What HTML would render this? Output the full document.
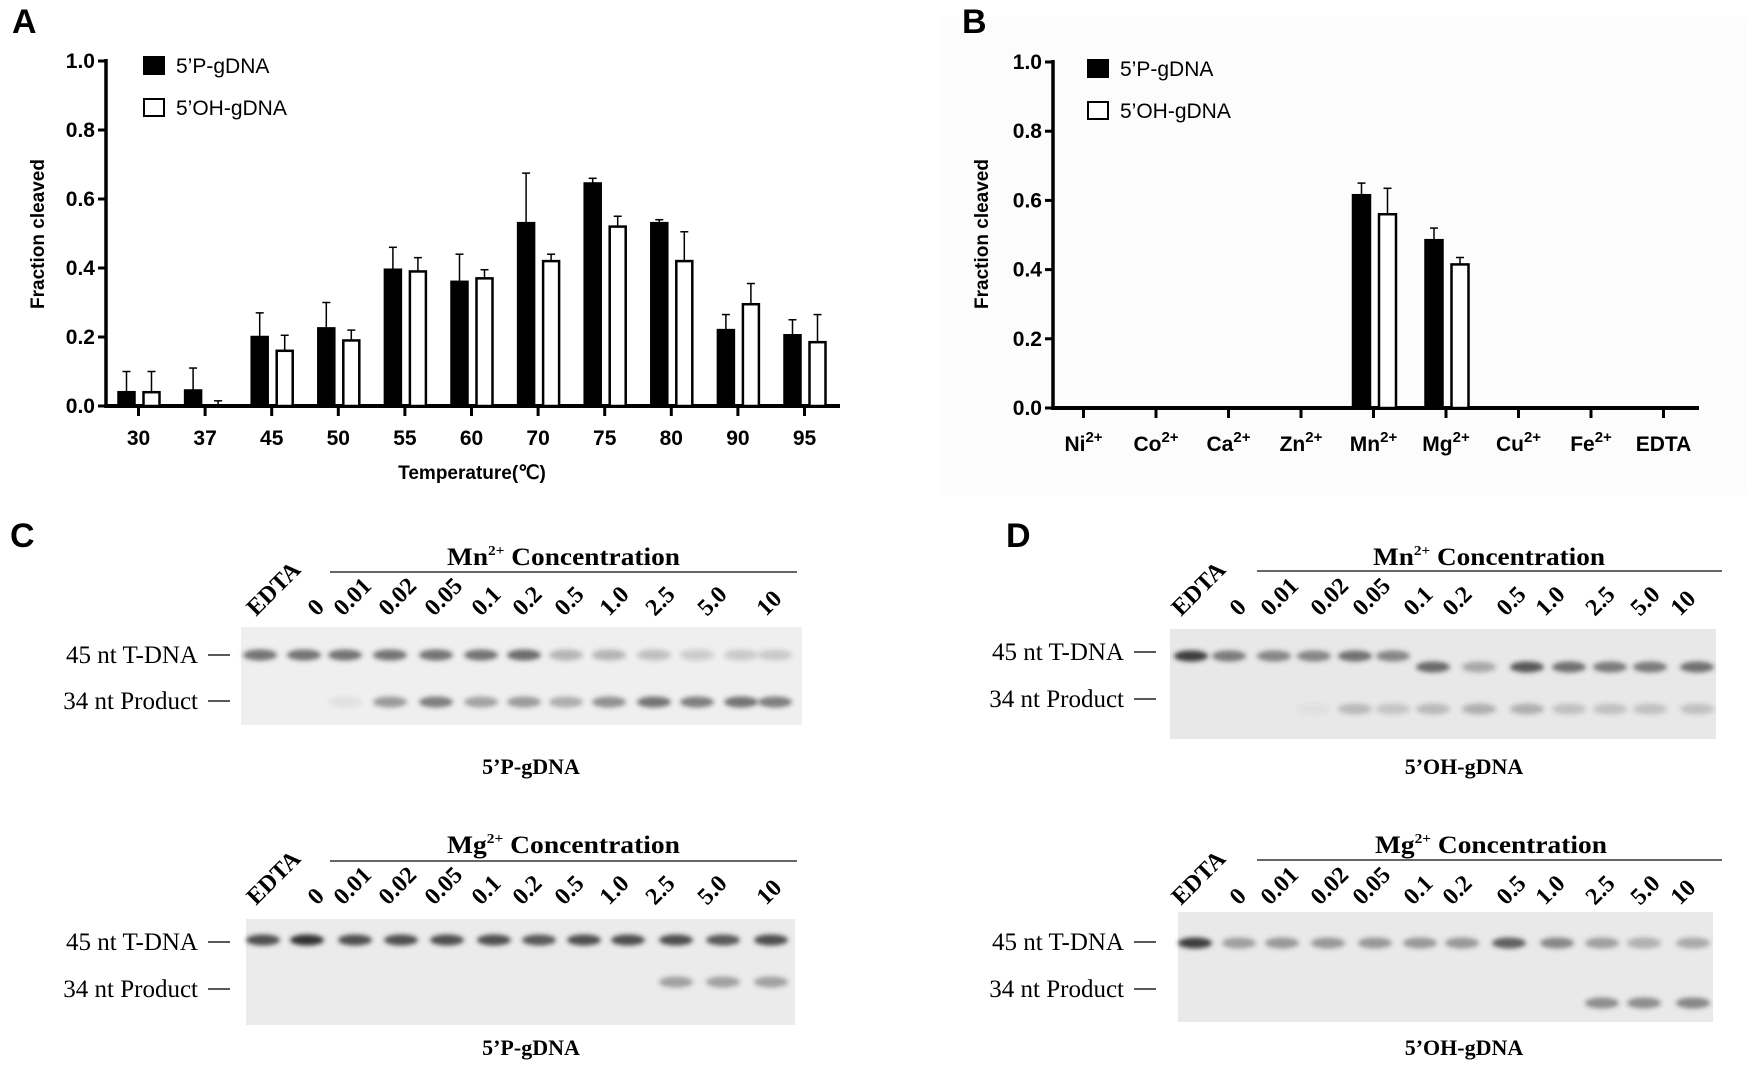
<!DOCTYPE html>
<html><head><meta charset="utf-8"><style>
html,body{margin:0;padding:0;background:#fff;}
svg{display:block;}
.cf{font-family:"Liberation Sans Narrow","Liberation Sans",sans-serif;}
.sf{font-family:"Liberation Serif",serif;}
</style></head><body>
<svg id="fig" width="1747" height="1067" viewBox="0 0 1747 1067" xmlns="http://www.w3.org/2000/svg">
<defs><filter id="blur" x="-50%" y="-100%" width="200%" height="300%"><feGaussianBlur stdDeviation="2.4"/></filter></defs>
<rect x="940" y="17" width="807" height="478" fill="#fcfcfc"/>
<g id="A"></g>
<g id="B"></g>
<g id="C"></g>
<g id="D"></g>
</svg>
<script>
// ---- Panel A data ----
const tempCats = ["30","37","45","50","55","60","70","75","80","90","95"];
const tempP = [0.04,0.045,0.20,0.225,0.395,0.36,0.53,0.645,0.53,0.22,0.205];
const tempPErr = [0.06,0.065,0.07,0.075,0.065,0.08,0.145,0.015,0.01,0.045,0.045];
const tempOH = [0.04,0.0,0.16,0.19,0.39,0.37,0.42,0.52,0.42,0.295,0.185];
const tempOHErr = [0.06,0.015,0.045,0.03,0.04,0.025,0.02,0.03,0.085,0.06,0.08];
const yTicks = ["0.0","0.2","0.4","0.6","0.8","1.0"];
// ---- Panel B data ----
const ionCats = ["Ni","Co","Ca","Zn","Mn","Mg","Cu","Fe","EDTA"];
const ionP = [0,0,0,0,0.615,0.485,0,0,0];
const ionPErr = [0,0,0,0,0.035,0.035,0,0,0];
const ionOH = [0,0,0,0,0.56,0.415,0,0,0];
const ionOHErr = [0,0,0,0,0.075,0.02,0,0,0];
// ---- Gel band intensities ----
const gelLabels = ["EDTA","0","0.01","0.02","0.05","0.1","0.2","0.5","1.0","2.5","5.0","10"];
const cMnT = [0.65,0.65,0.65,0.65,0.65,0.65,0.7,0.3,0.3,0.25,0.18,0.2,0.2];
const cMnP = [0,0,0.06,0.45,0.6,0.4,0.45,0.35,0.5,0.65,0.6,0.65,0.6];
const cMgT = [0.85,1.0,0.85,0.85,0.85,0.85,0.8,0.85,0.85,0.85,0.8,0.85];
const cMgP = [0,0,0,0,0,0,0,0,0,0.4,0.4,0.4];
const dMnT = [0.95,0.6,0.55,0.55,0.65,0.55,0.7,0.35,0.8,0.65,0.6,0.6,0.65];
const dMnP = [0,0,0,0.05,0.25,0.2,0.25,0.3,0.3,0.22,0.22,0.22,0.22];
const dMgT = [0.95,0.4,0.45,0.45,0.45,0.45,0.45,0.75,0.55,0.4,0.3,0.35];
const dMgP = [0,0,0,0,0,0,0,0,0,0.5,0.5,0.55];

const NS="http://www.w3.org/2000/svg";
function mk(parent,tag,attrs,text){const e=document.createElementNS(NS,tag);for(const k in attrs)e.setAttribute(k,attrs[k]);if(text!==undefined)e.textContent=text;parent.appendChild(e);return e;}

function barChart(g,o){
  const y=v=>o.y0-(o.y0-o.y1)*v;
  const x=i=>o.x0+o.step*i;
  let e=mk(g,'line',{x1:o.ax,y1:o.y1-2,x2:o.ax,y2:o.y0+2,stroke:'#000','stroke-width':3.5});
  
  e=mk(g,'line',{x1:o.ax,y1:o.y0,x2:o.axEnd,y2:o.y0,stroke:'#000','stroke-width':4});
  
  yTicks.forEach((t,i)=>{const v=i*0.2;
    let l=mk(g,'line',{x1:o.ax-8,y1:y(v),x2:o.ax,y2:y(v),stroke:'#000','stroke-width':3});
    
    let tx=mk(g,'text',{x:o.ax-11,y:y(v)+7,'text-anchor':'end','font-size':21,'font-weight':'bold',class:'cf'},t);
    
  });
  o.cats.forEach((c,i)=>{
    let l=mk(g,'line',{x1:x(i),y1:o.y0,x2:x(i),y2:o.y0+10,stroke:'#000','stroke-width':3});
    
    let tx=mk(g,'text',{x:x(i),y:o.labY,'text-anchor':'middle','font-size':21,'font-weight':'bold',class:'cf'});
    
    tx.textContent=c;
    if(o.sup&&c!=="EDTA"){mk(tx,'tspan',{'font-size':15,dy:-9},'2+');}
    [[o.p,o.pe,-o.off1,'#000','bar-5p'],[o.oh,o.ohe,o.off2,'#fff','bar-5oh']].forEach(([vals,errs,dx,fill,nm])=>{
      const v=vals[i];if(v<=0&&errs[i]<=0)return;
      const cx=x(i)+dx;
      if(errs[i]>0){
        let el=mk(g,'line',{x1:cx,y1:y(v),x2:cx,y2:y(v+errs[i]),stroke:'#000','stroke-width':1.5});
        
        let ec=mk(g,'line',{x1:cx-4,y1:y(v+errs[i]),x2:cx+4,y2:y(v+errs[i]),stroke:'#000','stroke-width':1.5});
        
      }
      if(v>0){
        let r=mk(g,'rect',{x:cx-o.bw/2,y:y(v),width:o.bw,height:o.y0-y(v),fill:fill,stroke:'#000','stroke-width':2.5});
        
      }
    });
  });
  let r1=mk(g,'rect',{x:o.lx,y:o.ly,width:20,height:17,fill:'#000',stroke:'#000','stroke-width':2});
  
  let t1=mk(g,'text',{x:o.lx+32,y:o.ly+16,'font-size':21,class:'cf'},"5’P-gDNA");
  
  let r2=mk(g,'rect',{x:o.lx,y:o.ly+42,width:20,height:17,fill:'#fff',stroke:'#000','stroke-width':2});
  
  let t2=mk(g,'text',{x:o.lx+32,y:o.ly+58,'font-size':21,class:'cf'},"5’OH-gDNA");
  
  let yt=mk(g,'text',{x:0,y:0,'font-size':19,'font-weight':'bold','text-anchor':'middle',class:'cf',transform:`translate(${o.ytx},${o.yty}) rotate(-90)`},"Fraction cleaved");
  
}

const A=document.getElementById('A');
let pl=mk(A,'text',{x:12,y:33,'font-size':34,'font-weight':'bold',class:'cf'},'A');

barChart(A,{cats:tempCats,p:tempP,pe:tempPErr,oh:tempOH,ohe:tempOHErr,ax:106,axEnd:840,x0:138.5,step:66.6,y0:406,y1:61,bw:16,off1:12,off2:13,labY:445,lx:144,ly:57,ytx:44,yty:234,sup:false});
let xt=mk(A,'text',{x:472,y:479,'font-size':19,'font-weight':'bold','text-anchor':'middle',class:'cf'},'Temperature(℃)');


const B=document.getElementById('B');
pl=mk(B,'text',{x:962,y:33,'font-size':34,'font-weight':'bold',class:'cf'},'B');

barChart(B,{cats:ionCats,p:ionP,pe:ionPErr,oh:ionOH,ohe:ionOHErr,ax:1053,axEnd:1699,x0:1083.5,step:72.5,y0:408,y1:62,bw:17,off1:12,off2:14,labY:451,lx:1088,ly:60,ytx:988,yty:234,sup:true});

function gel(g,o){
  let t=mk(g,'text',{x:o.hx,y:o.hy,'font-size':25,'font-weight':'bold',class:'sf',textLength:o.hw,lengthAdjust:'spacingAndGlyphs'});
  
  t.textContent=o.ion;mk(t,'tspan',{'font-size':14,dy:-10},'2+');mk(t,'tspan',{dy:10},' Concentration');
  let l=mk(g,'line',{x1:o.lx1,y1:o.ly,x2:o.lx2,y2:o.ly,stroke:'#333','stroke-width':1.6});
  
  gelLabels.forEach((s,i)=>{
    let tx=mk(g,'text',{x:0,y:0,'font-size':24,'font-weight':'bold',class:'sf',transform:`translate(${o.labX[i]},${o.labY}) rotate(-45)`},s);
    
  });
  let r=mk(g,'rect',{x:o.gx,y:o.gy,width:o.gw,height:o.gh,fill:o.bg});
  
  o.lanes.forEach((lx,i)=>{
    [[o.T[i],o.ty+(o.tShift&&i>=o.tShift?11:0),'band-t-dna'],[o.P[i],o.py,'band-product']].forEach(([v,by,nm])=>{
      if(!v)return;
      let b=mk(g,'ellipse',{cx:lx,cy:by,rx:17,ry:5.5,fill:'#333','fill-opacity':v,filter:'url(#blur)'});
      
    });
  });
  [["45 nt T-DNA",o.l1y],["34 nt Product",o.l2y]].forEach(([s,yy],k)=>{
    let tx=mk(g,'text',{x:o.labR,y:yy+8,'text-anchor':'end','font-size':25,class:'sf'},s);
    
    let d=mk(g,'line',{x1:o.labR+10,y1:yy,x2:o.labR+32,y2:yy,stroke:'#222','stroke-width':1.6});
    
  });
  let c=mk(g,'text',{x:o.cx,y:o.cy,'text-anchor':'middle','font-size':22,'font-weight':'bold',class:'sf'},o.cap);
  
}
const C=document.getElementById('C'),D=document.getElementById('D');
pl=mk(C,'text',{x:10,y:547,'font-size':34,'font-weight':'bold',class:'cf'},'C');

pl=mk(D,'text',{x:1006,y:547,'font-size':34,'font-weight':'bold',class:'cf'},'D');

const cLab=[256,317,343,388,434,481,522,564,609,655,707,766];
gel(C,{ion:'Mn',hx:447,hy:565,hw:233,lx1:330,lx2:797,ly:572,labX:cLab,labY:617,gx:241,gy:627,gw:561,gh:98,bg:'#efefef',
  lanes:[260,304,345,390,436,481,524,566,609,654,697,741,775],T:cMnT,P:cMnP,ty:655,py:702,labR:198,l1y:655,l2y:701,cx:531,cy:774,cap:'5’P-gDNA'});
gel(C,{ion:'Mg',hx:447,hy:853,hw:233,lx1:330,lx2:797,ly:861,labX:cLab,labY:906,gx:246,gy:919,gw:549,gh:106,bg:'#ebebeb',
  lanes:[263,307,355,401,447,494,539,584,628,676,723,771],T:cMgT,P:cMgP,ty:940,py:982,labR:198,l1y:942,l2y:989,cx:531,cy:1055,cap:'5’P-gDNA'});
const dLab=[1181,1239,1270,1320,1362,1413,1452,1506,1545,1595,1640,1680];
gel(D,{ion:'Mn',hx:1373,hy:565,hw:232,lx1:1257,lx2:1722,ly:571,labX:dLab,labY:617,gx:1170,gy:629,gw:546,gh:110,bg:'#e8e8e8',
  lanes:[1191,1229,1274,1314,1355,1393,1433,1479,1527,1569,1610,1650,1697],T:dMnT,P:dMnP,ty:656,py:709,tShift:6,labR:1124,l1y:652,l2y:699,cx:1464,cy:774,cap:'5’OH-gDNA'});
gel(D,{ion:'Mg',hx:1375,hy:853,hw:232,lx1:1257,lx2:1722,ly:860,labX:dLab,labY:906,gx:1178,gy:912,gw:535,gh:110,bg:'#e9e9e9',
  lanes:[1195,1239,1282,1328,1375,1420,1462,1509,1557,1602,1644,1693],T:dMgT,P:dMgP,ty:943,py:1003,labR:1124,l1y:942,l2y:989,cx:1464,cy:1055,cap:'5’OH-gDNA'});
</script>
</body></html>
